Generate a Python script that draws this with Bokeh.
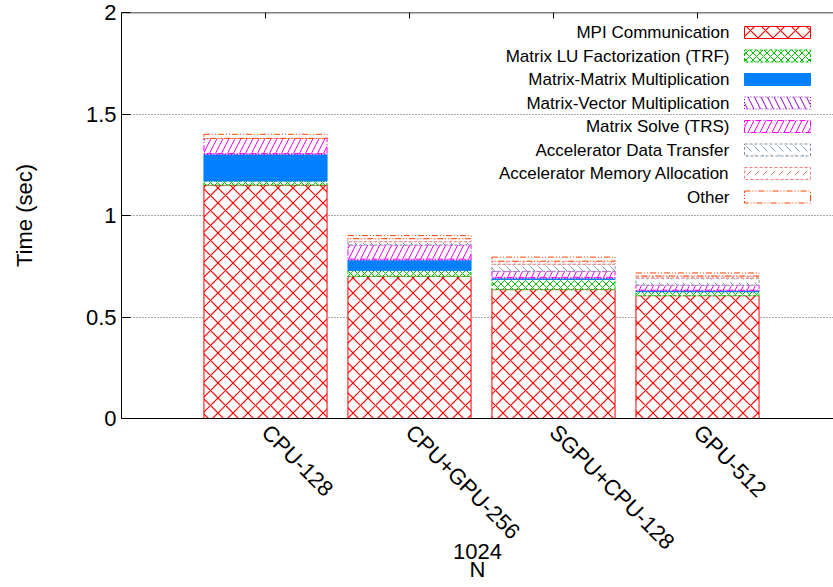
import numpy as np
from bokeh.plotting import figure
from bokeh.models import Range1d, FixedTicker, LinearAxis, Label, BoxAnnotation, Span
from bokeh.embed import file_html
from bokeh.resources import INLINE

# ---------------- data ----------------
configs = ["CPU-128", "CPU+GPU-256", "SGPU+CPU-128", "GPU-512"]
group_label = "1024"
x_title = "N"
y_title = "Time (sec)"

mpi_comm = [1.150, 0.700, 0.635, 0.605]
lu_trf = [0.020, 0.030, 0.050, 0.020]
mat_mat = [0.130, 0.050, 0.005, 0.004]
mat_vec = [0.005, 0.005, 0.005, 0.003]
solve_trs = [0.075, 0.070, 0.030, 0.025]
acc_transfer = [0.000, 0.016, 0.035, 0.035]
acc_alloc = [0.000, 0.015, 0.015, 0.010]
other = [0.020, 0.015, 0.020, 0.015]

series_names = ["MPI Communication", "Matrix LU Factorization (TRF)",
                "Matrix-Matrix Multiplication", "Matrix-Vector Multiplication",
                "Matrix Solve (TRS)", "Accelerator Data Transfer",
                "Accelerator Memory Allocation", "Other"]
series_values = [mpi_comm, lu_trf, mat_mat, mat_vec, solve_trs,
                 acc_transfer, acc_alloc, other]

y_ticks = [0, 0.5, 1, 1.5, 2]
y_tick_labels = ["0", "0.5", "1", "1.5", "2"]

# ---------------- styles ----------------
styles = [
    dict(color="#ff0000", fill="white", hatch="x", scale=15, weight=1.2, dash="solid"),
    dict(color="#00c000", fill="white", hatch="x", scale=7, weight=1, dash="3 2"),
    dict(color="#0080ff", fill="#0080ff", hatch=None, scale=8, weight=1, dash="solid"),
    dict(color="#9400d3", fill="white", hatch="\\", scale=13, weight=1, dash="1 2"),
    dict(color="#ff00ff", fill="white", hatch="/", scale=12, weight=1, dash="6 2 1 2"),
    dict(color="#8090a0", fill="white", hatch="`", scale=8, weight=1, dash="3 2"),
    dict(color="#f08080", fill="white", hatch=",", scale=8, weight=1, dash="3 2"),
    dict(color="#ff4500", fill="white", hatch=None, scale=8, weight=1, dash="6 2 1 2 1 2"),
]

FONT = "Liberation Sans"
W, H = 833, 587
LEFT, TOP, BOTTOM = 121, 12, 169
X0, X1 = -1.0, -1.0 + (W - LEFT) / 144.0
Y0, Y1 = 0, 2

p = figure(width=W, height=H, output_backend="svg", toolbar_location=None,
           x_range=Range1d(X0, X1), y_range=Range1d(Y0, Y1),
           min_border_left=LEFT, min_border_top=TOP, min_border_bottom=BOTTOM,
           min_border_right=0, x_axis_type=None, y_axis_location="left")
p.outline_line_color = None
p.background_fill_color = "white"
p.border_fill_color = "white"

xs = np.arange(len(configs))
bottom = np.zeros(len(configs))
for vals, st in zip(series_values, styles):
    v = np.array(vals, dtype=float)
    kw = dict(x=xs, width=0.855, bottom=bottom.copy(), top=bottom + v,
              fill_color=st["fill"], line_color=st["color"], line_width=1,
              line_dash=st["dash"])
    if st["hatch"]:
        kw.update(hatch_pattern=st["hatch"], hatch_color=st["color"],
                  hatch_scale=st["scale"], hatch_weight=st["weight"], hatch_alpha=1.0)
    p.vbar(**kw)
    bottom = bottom + v

# y axis
yax = p.yaxis[0]
yax.ticker = FixedTicker(ticks=y_ticks)
yax.major_label_overrides = {t: l for t, l in zip(y_ticks, y_tick_labels)}
yax.major_tick_in = 9
yax.major_tick_out = 0
yax.minor_tick_line_color = None
yax.major_label_text_font = FONT
yax.major_label_text_font_size = "22px"
yax.major_label_text_color = "black"
yax.major_label_standoff = 5
yax.axis_label = y_title
yax.axis_label_text_font = FONT
yax.axis_label_text_font_size = "22px"
yax.axis_label_text_font_style = "normal"
yax.axis_label_text_color = "black"
yax.axis_label_standoff = 46
yax.axis_line_color = "black"

p.ygrid.ticker = FixedTicker(ticks=y_ticks)
p.ygrid.grid_line_color = "#555555"
p.ygrid.grid_line_dash = "1 2"
p.ygrid.grid_line_width = 1
p.xgrid.grid_line_color = None

# bottom axis
xax = LinearAxis(ticker=FixedTicker(ticks=list(xs)),
                 major_label_overrides={int(i): c for i, c in zip(xs, configs)})
xax.major_label_orientation = -np.pi / 4
xax.major_tick_in = 0
xax.major_tick_out = 0
xax.minor_tick_line_color = None
xax.major_label_text_font = FONT
xax.major_label_text_font_size = "22px"
xax.major_label_text_color = "black"
xax.major_label_standoff = 10
xax.axis_line_color = "black"
xax.axis_label = group_label + "\n" + x_title
xax.axis_label_text_font = FONT
xax.axis_label_text_font_size = "22px"
xax.axis_label_text_font_style = "normal"
xax.axis_label_text_color = "black"
xax.axis_label_text_line_height = 0.72
xax.axis_label_standoff = -27
p.add_layout(xax, "below")

# top border with mirrored ticks
p.add_layout(Span(location=Y1, dimension="width", line_color="black", line_width=1.5))
sy = (H - TOP - BOTTOM) / (Y1 - Y0)
p.segment(x0=xs, y0=np.full(len(xs), Y1), x1=xs, y1=np.full(len(xs), Y1 - 6.0 / sy),
          line_color="black", line_width=1)

# helpers for pixel -> data
sx = 144.0
def px2x(px):
    return X0 + (px - LEFT) / sx
def py2y(py):
    return Y1 - (py - TOP) / sy

# manual legend: text right-aligned, key box on the right
row0, step = 32.0, 23.5
for i, (name, st) in enumerate(zip(series_names, styles)):
    cy = row0 + i * step
    p.add_layout(Label(x=px2x(729), y=py2y(cy), text=name,
                       text_align="right", text_baseline="middle",
                       text_font=FONT, text_font_size="17px", text_color="black"))
    bkw = dict(left=px2x(744), right=px2x(810), top=py2y(cy - 6), bottom=py2y(cy + 6),
               fill_color=st["fill"], fill_alpha=1.0, line_color=st["color"],
               line_alpha=1.0, line_width=1, line_dash=st["dash"])
    if st["hatch"]:
        bkw.update(hatch_pattern=st["hatch"], hatch_color=st["color"],
                   hatch_scale=st["scale"], hatch_weight=st["weight"], hatch_alpha=1.0)
    p.add_layout(BoxAnnotation(**bkw))

open("out.html", "w").write(file_html(p, INLINE))
